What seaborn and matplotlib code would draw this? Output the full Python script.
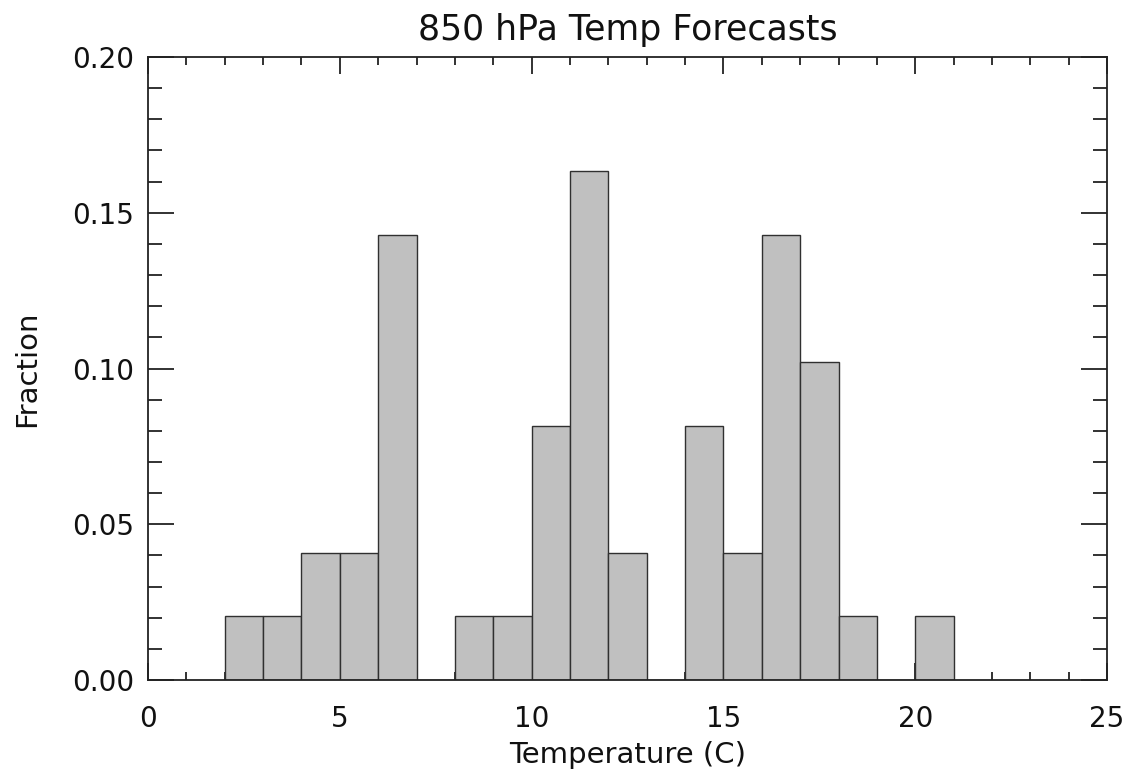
import matplotlib
matplotlib.use("Agg")
import matplotlib.pyplot as plt
import seaborn as sns
import numpy as np
from matplotlib.ticker import MultipleLocator

# Data
bin_left = [2, 3, 4, 5, 6, 7, 8, 9, 10, 11, 12, 13, 14, 15, 16, 17, 18, 19, 20]
fraction = [0.0204, 0.0204, 0.0408, 0.0408, 0.1429, 0.0, 0.0204, 0.0204, 0.0816,
            0.1633, 0.0408, 0.0, 0.0816, 0.0408, 0.1429, 0.1020, 0.0204, 0.0, 0.0204]
x_ticks = [0, 5, 10, 15, 20, 25]
y_ticks = [0.00, 0.05, 0.10, 0.15, 0.20]
y_tick_labels = ["0.00", "0.05", "0.10", "0.15", "0.20"]

sns.set_style("white")
plt.rcParams['font.family'] = ['DejaVu Sans']

fig = plt.figure(figsize=(11.27, 7.74), dpi=100)
ax = fig.add_axes([0.1313, 0.1214, 0.8510, 0.8050])

centers = [b + 0.5 for b in bin_left]
edges = [bin_left[0] + i for i in range(len(bin_left) + 1)]
sns.histplot(x=centers, weights=fraction, bins=edges, ax=ax,
             color="#c0c0c0", edgecolor="#303030", linewidth=1.0, alpha=1.0)

ax.set_xlim(0, 25)
ax.set_ylim(0, 0.20)
ax.set_xticks(x_ticks)
ax.set_yticks(y_ticks)
ax.set_yticklabels(y_tick_labels)
ax.xaxis.set_minor_locator(MultipleLocator(1))
ax.yaxis.set_minor_locator(MultipleLocator(0.01))

ax.tick_params(axis='both', which='both', direction='in',
               top=True, right=True, bottom=True, left=True,
               colors='#222222', labelcolor='#111111', labelsize=20, width=1.3)
ax.tick_params(axis='x', which='major', length=12, pad=18)
ax.tick_params(axis='x', which='minor', length=6)
ax.tick_params(axis='y', which='major', length=19, pad=10)
ax.tick_params(axis='y', which='minor', length=10)

for s in ax.spines.values():
    s.set_visible(True)
    s.set_linewidth(1.3)
    s.set_color('#222222')

ax.set_xlabel("Temperature (C)", fontsize=21, labelpad=6, color='#111111')
ax.set_ylabel("Fraction", fontsize=21, labelpad=22, color='#111111')
ax.set_title("850 hPa Temp Forecasts", fontsize=25, pad=12, color='#111111')

fig.savefig("out.png", dpi=100)
